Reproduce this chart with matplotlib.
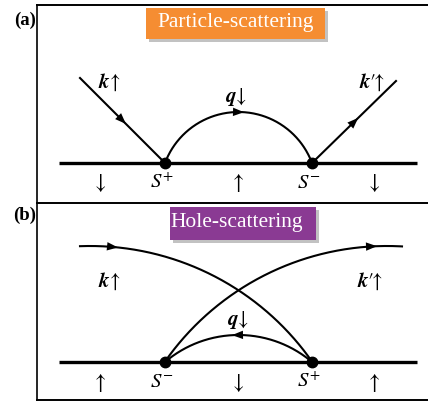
import numpy as np
import matplotlib.pyplot as plt
from matplotlib.patches import Rectangle, Polygon

plt.rcParams['mathtext.fontset'] = 'stix'
SERIF = ['Liberation Serif', 'DejaVu Serif']

# geometry (pixel units, y down)
panel_top = [5, 203]
panel_bottom = [203, 400]
base_y = [163, 362]
base_x = [59, 417]
node_x = [165, 312]

# panel (a): particle scattering
a_in = [(80, 78), (165, 163)]
a_out = [(312, 163), (396, 81)]
a_q_peak = 112
a_nodes = [r'$S^{+}$', r'$S^{-}$']
a_spins = [r'$\downarrow$', r'$\uparrow$', r'$\downarrow$']

# panel (b): hole scattering
b_big_r = 271
b_big_cy = 517
b_k_x = [80, 312]
b_kp_x = [165, 402]
b_q_peak = 335
b_nodes = [r'$S^{-}$', r'$S^{+}$']
b_spins = [r'$\uparrow$', r'$\downarrow$', r'$\uparrow$']

spin_x = [99, 237, 373]

K_LAB = r'$\boldsymbol{k}\!\uparrow$'
KP_LAB = r'$\boldsymbol{k}\prime\!\!\uparrow$'
Q_LAB = r'$\boldsymbol{q}\!\downarrow$'

fig = plt.figure(figsize=(4.28, 4.05), dpi=100)
ax = fig.add_axes([0, 0, 1, 1])
ax.set_xlim(0, 428)
ax.set_ylim(405, 0)
ax.axis('off')


def head(x, y, dx, dy, L=11, W=4.2):
    d = np.array([dx, dy], float)
    d /= np.hypot(*d)
    n = np.array([-d[1], d[0]])
    tip = np.array([x, y])
    back = tip - L * d
    ax.add_patch(Polygon([tip, back + W * n, back - W * n], closed=True,
                         color='black', lw=0, zorder=4))


def arc(x1, x2, ypeak, ybase):
    c = (x2 - x1) / 2
    h = ybase - ypeak
    R = (c ** 2 + h ** 2) / (2 * h)
    xm = (x1 + x2) / 2
    xs = np.linspace(x1, x2, 200)
    ys = (ypeak + R) - np.sqrt(R ** 2 - (xs - xm) ** 2)
    return xs, ys


# frames
ax.plot([37, 37], [panel_top[0], panel_bottom[1]], color='black', lw=1.2)
for yy in [panel_top[0], panel_bottom[0], panel_bottom[1]]:
    ax.plot([37, 428], [yy, yy], color='black', lw=1.4)

for by in base_y:
    ax.plot(base_x, [by, by], color='black', lw=2.4, solid_capstyle='butt', zorder=3)
    ax.plot(node_x, [by, by], 'o', color='black', ms=7.5, zorder=5)

# ---- panel (a)
ax.text(25, 20, '(a)', ha='center', va='center', fontsize=13.5, fontweight='bold', family=SERIF)
ax.add_patch(Rectangle((149, 11), 179, 31, color='#9a9a9a', alpha=0.6, lw=0, zorder=2))
ax.add_patch(Rectangle((146, 8), 179, 31, color='#F58D32', lw=0, zorder=3))
ax.text(236, 23, 'Particle-scattering', ha='center', va='center', fontsize=15.5,
        color='white', family=SERIF, zorder=4)

ax.plot(*zip(*a_in), color='black', lw=1.5)
ax.plot(*zip(*a_out), color='black', lw=1.5)
p = np.array(a_in)
t = 0.54
head(*(p[0] + t * (p[1] - p[0])), *(p[1] - p[0]))
p = np.array(a_out)
t = 0.55
head(*(p[0] + t * (p[1] - p[0])), *(p[1] - p[0]))
xs, ys = arc(node_x[0], node_x[1], a_q_peak, base_y[0])
ax.plot(xs, ys, color='black', lw=1.5)
head(244, a_q_peak + 0.2, 1, 0.03)

ax.text(109, 82, K_LAB, ha='center', va='center', fontsize=15)
ax.text(236, 97, Q_LAB, ha='center', va='center', fontsize=15)
ax.text(372, 82, KP_LAB, ha='center', va='center', fontsize=15)
for x, s in zip(node_x, a_nodes):
    ax.text(x - 3, 182, s, ha='center', va='center', fontsize=15)
for x, s in zip(spin_x, a_spins):
    ax.text(x, 183, s, ha='center', va='center', fontsize=16)

# ---- panel (b)
ax.text(25, 215, '(b)', ha='center', va='center', fontsize=13.5, fontweight='bold', family=SERIF)
ax.add_patch(Rectangle((173, 210), 146, 33, color='#9a9a9a', alpha=0.6, lw=0, zorder=2))
ax.add_patch(Rectangle((170, 207), 146, 33, color='#8A3A93', lw=0, zorder=3))
ax.text(237, 223, 'Hole-scattering', ha='center', va='center', fontsize=15.5,
        color='white', family=SERIF, zorder=4)

cx1 = b_k_x[0] + 10
xs = np.linspace(b_k_x[0], b_k_x[1], 300)
ys = b_big_cy - np.sqrt(b_big_r ** 2 - (xs - cx1) ** 2)
ax.plot(xs, ys, color='black', lw=1.5)
head(118, b_big_cy - np.sqrt(b_big_r ** 2 - (118 - cx1) ** 2), 1, (118 - cx1) / b_big_r)

cx2 = b_kp_x[1] - 15
xs = np.linspace(b_kp_x[0], b_kp_x[1], 300)
ys = b_big_cy - np.sqrt(b_big_r ** 2 - (xs - cx2) ** 2)
ax.plot(xs, ys, color='black', lw=1.5)
head(377, b_big_cy - np.sqrt(b_big_r ** 2 - (377 - cx2) ** 2), 1, (377 - cx2) / b_big_r)

xs, ys = arc(node_x[0], node_x[1], b_q_peak, base_y[1])
ax.plot(xs, ys, color='black', lw=1.5)
head(232, b_q_peak + 0.1, -1, 0.02)

ax.text(109, 281, K_LAB, ha='center', va='center', fontsize=15)
ax.text(238, 320, Q_LAB, ha='center', va='center', fontsize=15)
ax.text(370, 281, KP_LAB, ha='center', va='center', fontsize=15)
for x, s in zip(node_x, b_nodes):
    ax.text(x - 3, 381, s, ha='center', va='center', fontsize=15)
for x, s in zip(spin_x, b_spins):
    ax.text(x, 383, s, ha='center', va='center', fontsize=16)

fig.savefig('out.png', dpi=100)
